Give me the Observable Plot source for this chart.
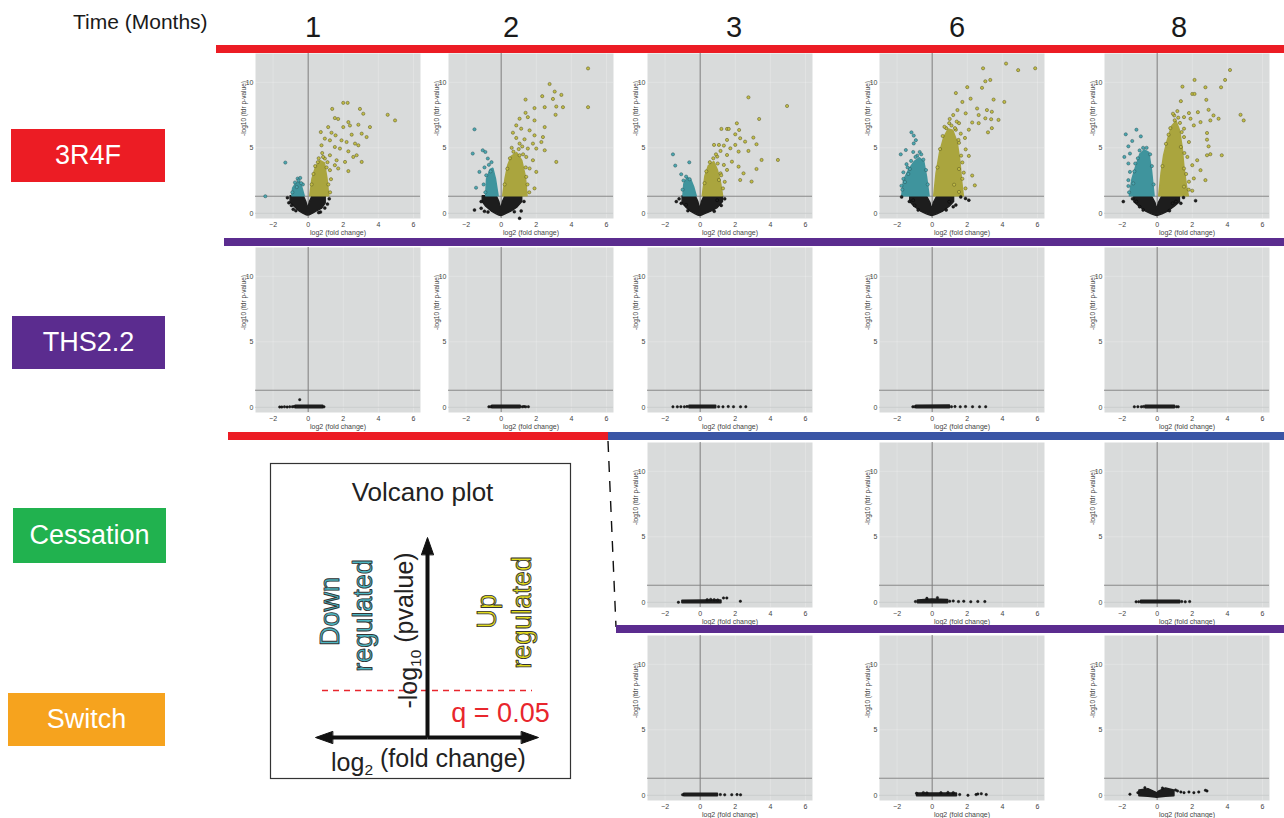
<!DOCTYPE html>
<html><head><meta charset="utf-8">
<script src="https://cdn.jsdelivr.net/npm/d3@7"></script>
<script src="https://cdn.jsdelivr.net/npm/@observablehq/plot@0.6"></script>
<style>
body{margin:0;background:#fff;font-family:"Liberation Sans",Arial,Helvetica,sans-serif;}
#fig{position:relative;width:1284px;height:818px;overflow:hidden;background:#fff;}
.lbl{position:absolute;color:#fff;font-size:27px;display:flex;align-items:center;justify-content:center;}
.hdr{position:absolute;color:#1a1a1a;transform:translate(-50%,-50%);white-space:nowrap;}
.bar{position:absolute;z-index:5;}
</style></head>
<body><div id="fig"></div>
<script>
// ---------------- data ----------------
const months = [1, 2, 3, 6, 8];
const groups = ["3R4F", "THS2.2", "Cessation", "Switch"];
const groupColors = ["#ec1c24", "#5b2c8f", "#21b24f", "#f6a31e"];
const blueColor = "#3a55a5";
const xTicks = [-2, 0, 2, 4, 6];
const yTicks = [0, 5, 10];
const qThreshold = 1.3;

// 3R4F, month 1  (cores: [x, y1, y2]; points: [x, y])
const p11Black = [[-1.0,0.8,1.3],[-0.85,0.6,1.3],[-0.5,0.15,1.3],[-0.25,-0.05,1.3],[-0.1,-0.15,0.85],[0,-0.18,0.35],[0.1,-0.15,0.85],[0.25,-0.05,1.3],[0.5,0.15,1.3],[0.8,0.35,1.3],[1.0,0.75,1.3]];
const p11Teal = [[-0.9,1.3,1.3],[-0.85,1.3,1.9],[-0.7,1.3,2.2],[-0.5,1.3,2.4],[-0.35,1.3,2.0],[-0.2,1.3,1.3]];
const p11Yellow = [[0.12,1.3,1.3],[0.25,1.3,2.6],[0.45,1.3,3.5],[0.7,1.3,4.0],[0.95,1.3,3.8],[1.1,1.3,2.6],[1.2,1.3,1.3]];
const p11Up = [[2.0,8.43],[2.25,8.43],[1.37,7.97],[2.95,7.97],[4.53,7.52],[4.95,7.09],[3.14,7.6],[1.52,7.27],[1.71,7.2],[2.29,6.96],[2.38,6.7],[2.86,6.76],[3.52,6.58],[2.0,6.58],[1.14,6.58],[0.72,6.2],[1.33,6.15],[1.56,5.95],[2.48,6.0],[3.05,6.08],[3.33,5.82],[0.95,5.7],[1.24,5.57],[1.9,5.57],[2.19,5.44],[2.67,5.32],[2.86,5.19],[0.76,5.19],[1.52,5.06],[1.81,4.94],[2.29,4.73],[2.76,4.43],[2.57,4.3],[1.24,4.43],[0.95,4.18],[1.62,4.05],[2.1,3.92],[3.05,3.92],[1.71,3.42],[2.29,3.22],[1.52,3.67],[1.24,3.29],[0.3,3.0],[0.55,3.9],[0.6,4.2],[0.85,4.3],[1.05,3.5],[1.15,2.2],[1.25,1.6],[1.3,2.6],[0.4,3.6],[0.2,2.2],[1.1,3.9],[0.8,4.6]];
const p11Down = [[-1.3,3.87],[-2.44,1.3],[-0.6,2.65],[-0.45,2.7],[-0.75,2.35],[-0.9,1.6],[-0.55,2.5],[-0.3,2.2],[-0.65,2.0],[-0.4,2.3]];
const p11NS = [[-1.18,1.19],[-1.1,0.8],[-0.95,0.6],[1.1,0.7],[1.2,1.1],[0.95,0.4],[-0.85,0.3],[0.7,0.1],[-0.7,0.2],[0.6,0.05]];

// 3R4F, month 2
const p12Black = [[-1.05,0.85,1.3],[-0.85,0.5,1.3],[-0.5,0.1,1.3],[-0.25,-0.08,1.3],[-0.1,-0.18,0.85],[0,-0.22,0.3],[0.1,-0.18,0.85],[0.25,-0.08,1.3],[0.55,0.1,1.3],[0.9,0.4,1.3],[1.2,0.85,1.3]];
const p12Teal = [[-0.85,1.3,1.3],[-0.8,1.3,2.6],[-0.6,1.3,3.3],[-0.45,1.3,3.4],[-0.3,1.3,2.6],[-0.15,1.3,1.3]];
const p12Yellow = [[0.12,1.3,1.3],[0.25,1.3,2.6],[0.4,1.3,3.6],[0.6,1.3,4.3],[0.9,1.3,4.6],[1.2,1.3,4.0],[1.4,1.3,2.8],[1.5,1.3,1.3]];
const p12Up = [[4.95,11.06],[4.95,8.1],[2.76,9.87],[3.05,9.29],[3.43,9.04],[2.95,8.73],[2.34,8.94],[1.39,8.68],[2.48,8.1],[3.14,8.15],[3.52,8.1],[3.1,7.52],[1.9,8.03],[1.39,7.67],[1.52,7.34],[1.05,7.22],[1.9,7.09],[0.86,6.71],[2.48,6.58],[1.14,6.46],[1.62,6.33],[0.67,6.15],[1.9,5.95],[2.38,5.82],[0.86,5.75],[1.33,5.65],[1.05,5.32],[1.81,5.32],[2.29,5.44],[1.52,4.94],[2.0,4.94],[2.48,4.81],[3.14,3.92],[1.43,4.3],[1.81,4.05],[1.05,4.43],[1.62,3.42],[2.0,3.16],[1.43,2.78],[1.9,1.9],[0.35,3.4],[0.5,4.2],[0.7,4.7],[1.0,4.9],[1.25,4.5],[1.4,3.5],[1.5,2.2],[1.6,1.6],[0.2,2.2],[0.6,5.0],[1.2,5.1]];
const p12Down = [[-1.52,6.41],[-1.62,4.56],[-1.05,4.81],[-0.9,4.68],[-0.76,4.18],[-1.24,3.16],[-1.43,1.95],[-0.95,3.5],[-0.7,3.7],[-0.55,3.9],[-0.85,2.9],[-1.0,2.2],[-0.9,1.6],[-0.6,3.2]];
const p12NS = [[-1.52,0.25],[-1.14,0.38],[-1.14,0.89],[1.05,-0.38],[1.14,0.18],[1.3,0.9],[-0.95,0.15],[-0.75,0.1],[0.75,0.12]];

// 3R4F, month 3
const p13Black = [[-1.0,0.75,1.3],[-0.8,0.45,1.3],[-0.5,0.1,1.3],[-0.25,-0.08,1.3],[-0.1,-0.18,0.85],[0,-0.22,0.3],[0.1,-0.18,0.85],[0.25,-0.08,1.3],[0.6,0.1,1.3],[1.0,0.4,1.3],[1.3,0.85,1.3]];
const p13Teal = [[-0.95,1.3,1.3],[-0.9,1.3,2.2],[-0.7,1.3,2.7],[-0.5,1.3,2.5],[-0.35,1.3,2.0],[-0.2,1.3,1.3]];
const p13Yellow = [[0.15,1.3,1.3],[0.3,1.3,2.8],[0.5,1.3,3.6],[0.8,1.3,3.9],[1.0,1.3,3.3],[1.2,1.3,2.2],[1.3,1.3,1.3]];
const p13Up = [[2.75,8.85],[4.95,8.19],[3.36,7.2],[2.09,6.87],[1.21,6.44],[1.53,6.44],[1.63,6.44],[2.22,6.36],[2.0,6.03],[3.03,5.78],[2.28,5.73],[1.53,5.6],[2.56,5.47],[1.07,5.22],[1.35,5.17],[2.0,5.22],[3.21,5.27],[0.79,5.22],[1.72,4.96],[1.16,4.76],[2.19,4.71],[2.75,4.76],[1.53,4.45],[0.97,4.33],[3.5,4.07],[4.43,4.07],[1.81,3.94],[1.35,3.69],[2.19,3.56],[3.21,3.38],[1.53,3.31],[2.47,3.05],[1.16,3.05],[2.28,2.54],[2.93,2.42],[1.07,2.54],[0.35,3.2],[0.55,3.9],[0.75,4.2],[1.0,3.8],[1.2,2.9],[1.3,1.9],[0.25,2.3],[0.9,4.5],[1.4,2.4]];
const p13Down = [[-1.55,4.5],[-0.62,3.89],[-1.42,3.64],[-1.08,2.98],[-0.8,2.8],[-0.95,2.5],[-1.0,1.8],[-0.6,2.6]];
const p13NS = [[-1.36,0.89],[-1.08,0.76],[-0.8,0.64],[0.97,1.0],[1.2,0.6],[1.4,1.1],[-1.2,1.1],[-0.7,0.2],[0.8,0.15]];

// 3R4F, month 6
const p14Black = [[-1.25,0.85,1.3],[-1.0,0.5,1.3],[-0.6,0.1,1.3],[-0.3,-0.08,1.3],[-0.1,-0.18,0.8],[0,-0.22,0.25],[0.1,-0.18,0.8],[0.3,-0.08,1.3],[0.6,0.1,1.3],[1.0,0.5,1.3],[1.25,0.85,1.3]];
const p14Teal = [[-1.7,1.3,1.3],[-1.6,1.3,2.5],[-1.3,1.3,3.3],[-1.0,1.3,3.9],[-0.7,1.3,4.2],[-0.45,1.3,3.9],[-0.3,1.3,2.8],[-0.15,1.3,1.3]];
const p14Yellow = [[0.12,1.3,1.3],[0.25,1.3,3.0],[0.45,1.3,4.6],[0.7,1.3,5.8],[0.95,1.3,6.4],[1.2,1.3,6.3],[1.45,1.3,5.4],[1.6,1.3,4.0],[1.7,1.3,2.5],[1.8,1.3,1.3]];
const p14Up = [[2.9,11.07],[4.21,11.43],[4.9,10.93],[5.87,11.07],[3.03,10.08],[3.31,10.18],[2.84,9.58],[2.0,9.63],[1.35,9.18],[2.19,8.75],[3.5,8.68],[1.72,8.5],[4.11,8.5],[2.56,8.0],[3.12,7.88],[1.44,7.88],[1.91,7.63],[3.4,7.75],[2.65,7.5],[3.03,7.25],[3.78,7.13],[3.36,7.18],[2.28,6.93],[2.65,6.88],[1.53,6.88],[0.97,6.88],[3.4,6.5],[3.18,6.18],[2.09,6.38],[1.35,6.38],[1.63,6.08],[1.87,5.75],[1.53,5.38],[1.91,4.88],[2.09,4.38],[1.72,3.88],[1.53,3.38],[2.28,2.88],[2.43,2.13],[1.53,1.63],[1.25,2.18],[1.72,2.63],[0.6,5.9],[0.8,6.5],[1.1,6.7],[1.3,6.5],[1.5,5.6],[1.65,4.4],[1.8,3.1],[1.9,1.9],[0.3,3.5],[0.45,4.9],[1.0,7.2],[1.2,7.5],[0.7,6.6],[1.4,7.0]];
const p14Down = [[-1.18,6.18],[-1.05,5.93],[-0.93,5.58],[-1.05,5.33],[-1.79,4.5],[-1.5,4.83],[-1.08,4.68],[-0.71,4.68],[-0.62,4.5],[-1.64,2.63],[-1.55,2.38],[-1.36,3.0],[-1.64,3.13],[-1.27,3.38],[-1.46,3.75],[-1.7,1.8],[-1.75,2.1],[-0.85,4.4],[-0.5,4.1],[-0.35,3.3],[-0.25,2.2],[-1.2,4.0],[-1.4,3.5],[-0.95,4.3]];
const p14NS = [[-1.74,1.25],[-1.08,1.0],[1.35,0.63],[1.63,1.25],[1.9,1.13],[2.09,1.0],[0.97,0.88],[-1.3,0.9],[1.2,0.5],[-1.0,0.6],[-0.8,0.25],[0.8,0.25]];

// 3R4F, month 8
const p15Black = [[-1.3,0.85,1.3],[-1.0,0.5,1.3],[-0.6,0.1,1.3],[-0.3,-0.08,1.3],[-0.1,-0.18,0.8],[0,-0.22,0.25],[0.1,-0.18,0.8],[0.3,-0.08,1.3],[0.6,0.1,1.3],[1.0,0.5,1.3],[1.3,0.85,1.3]];
const p15Teal = [[-1.55,1.3,1.3],[-1.4,1.3,2.6],[-1.2,1.3,3.5],[-0.95,1.3,4.5],[-0.7,1.3,4.8],[-0.45,1.3,4.6],[-0.3,1.3,3.3],[-0.15,1.3,1.3]];
const p15Yellow = [[0.12,1.3,1.3],[0.25,1.3,3.0],[0.4,1.3,4.4],[0.6,1.3,5.5],[0.85,1.3,6.6],[1.1,1.3,7.0],[1.3,1.3,6.3],[1.45,1.3,5.0],[1.55,1.3,3.5],[1.7,1.3,2.0],[1.8,1.3,1.3]];
const p15Up = [[4.15,10.94],[3.87,10.18],[3.64,9.62],[2.75,9.62],[2.13,10.18],[1.44,9.67],[2.0,9.11],[2.13,9.11],[2.8,8.66],[1.35,8.56],[4.75,7.52],[4.93,7.09],[2.93,7.9],[3.21,7.47],[3.5,7.22],[3.03,7.09],[2.32,7.72],[1.81,7.65],[0.97,7.47],[1.53,7.34],[1.9,7.22],[2.47,6.96],[2.09,6.71],[1.53,6.46],[2.84,6.13],[2.84,5.62],[2.93,5.11],[2.84,4.43],[3.68,4.43],[3.03,4.51],[1.53,5.82],[1.81,5.44],[1.35,5.06],[1.72,4.3],[2.28,4.05],[2.0,3.67],[1.53,3.42],[2.47,3.29],[2.75,2.53],[2.09,2.66],[1.81,2.41],[2.0,1.72],[1.53,2.03],[0.5,5.3],[0.75,6.5],[1.0,7.1],[1.2,7.3],[1.4,6.2],[1.55,4.6],[1.65,3.0],[1.8,1.8],[0.3,3.6],[0.9,7.6],[1.15,7.8],[0.65,6.0],[1.3,6.9]];
const p15Down = [[-1.18,6.38],[-1.79,6.03],[-0.93,5.87],[-1.42,5.52],[-1.64,5.11],[-1.87,4.3],[-1.55,4.56],[-1.64,3.8],[-1.55,3.16],[-1.64,2.53],[-1.64,2.08],[-1.36,2.28],[-1.1,4.2],[-0.8,5.0],[-0.6,5.0],[-0.4,4.5],[-1.3,3.2],[-1.0,4.8],[-0.3,3.6],[-0.2,2.2],[-1.6,1.6],[-1.25,3.8]];
const p15NS = [[-1.93,0.89],[-1.18,0.89],[-0.8,0.25],[0.88,0.76],[1.07,0.89],[1.35,0.76],[2.19,0.96],[-1.4,1.1],[1.5,1.2],[-1.0,0.5],[0.7,0.2]];

// THS2.2, months 1..8
const p21Core = [[-0.7,-0.06,0.1],[0.85,-0.06,0.1]];
const p21NS = [[-1.62,0.02],[-1.5,0.02],[-1.35,0.03],[-1.2,0.02],[-1.05,0.03],[-0.9,0.04],[-0.8,0.05],[-0.48,0.58],[0.9,0.03]];
const p22Core = [[-0.5,-0.06,0.1],[1.1,-0.06,0.1]];
const p22NS = [[-0.7,0.03],[-0.6,0.04],[1.2,0.03],[1.3,0.05],[1.4,0.03],[1.55,0.04]];
const p23Core = [[-0.6,-0.06,0.1],[0.9,-0.06,0.1]];
const p23NS = [[-1.55,0.03],[-1.3,0.03],[-1.1,0.04],[-0.9,0.03],[-0.75,0.05],[1.05,0.04],[1.3,0.03],[1.6,0.05],[1.9,0.04],[2.3,0.03],[2.6,0.04]];
const p24Core = [[-0.9,-0.06,0.1],[1.0,-0.06,0.12]];
const p24NS = [[-1.1,0.03],[-1.0,0.04],[1.1,0.04],[1.3,0.05],[1.6,0.03],[1.9,0.05],[2.3,0.04],[2.7,0.03],[3.05,0.04]];
const p25Core = [[-0.65,-0.06,0.1],[1.0,-0.06,0.1]];
const p25NS = [[-1.3,0.03],[-1.1,0.04],[-0.9,0.03],[-0.78,0.05],[1.1,0.04],[1.2,0.03]];

// Cessation, months 3, 6, 8
const p33Core = [[-1.0,-0.06,0.1],[0.3,-0.06,0.12],[1.2,-0.06,0.12]];
const p33NS = [[-1.24,0.0],[1.33,0.33],[1.52,0.33],[2.29,0.08],[0.4,0.2],[0.6,0.22],[0.8,0.2],[1.0,0.18]];
const p34Core = [[-0.8,-0.06,0.12],[0,-0.06,0.2],[0.9,-0.06,0.15]];
const p34NS = [[-0.95,0.05],[1.0,0.08],[1.2,0.1],[1.5,0.05],[1.8,0.08],[2.2,0.04],[2.6,0.06],[3.0,0.05],[-0.3,0.3],[0.3,0.35]];
const p35Core = [[-0.9,-0.06,0.1],[1.3,-0.06,0.1]];
const p35NS = [[-1.2,0.03],[-1.05,0.04],[1.4,0.05],[1.6,0.03],[1.85,0.05]];

// Switch, months 3, 6, 8
const p43Core = [[-0.9,-0.06,0.1],[1.0,-0.06,0.1]];
const p43NS = [[-1.0,0.04],[1.15,0.05],[1.4,0.03],[1.8,0.04],[2.1,0.05],[2.3,0.03]];
const p44Core = [[-0.85,-0.06,0.12],[1.4,-0.06,0.12]];
const p44NS = [[-0.89,0.15],[-0.5,0.2],[-0.3,0.18],[0.5,0.2],[0.9,0.22],[1.2,0.2],[1.57,0.05],[2.04,0.0],[2.5,0.05],[2.8,0.12],[3.08,0.05],[2.6,0.1]];
const p45Core = [[-1.0,-0.06,0.35],[-0.5,-0.1,0.45],[-0.1,-0.15,0.2],[0,-0.18,0.1],[0.1,-0.15,0.25],[0.5,-0.1,0.5],[0.97,-0.06,0.35]];
const p45NS = [[-1.55,0.08],[1.16,0.33],[1.35,0.25],[1.53,0.2],[1.81,0.25],[2.09,0.2],[2.37,0.25],[2.75,0.38],[2.84,0.33],[-0.7,0.58],[0.3,0.55],[-1.1,0.2],[1.05,0.4]];

// schematic legend (schematic units)
const legendShafts = [[0,0,-0.97,0],[0,0,0.96,0],[0,0,0,1.85]];
const legendHeads = [[-1.12,0,-90],[1.11,0,90],[0,2.0,0]];
const legendQ = 0.47;

// ---------------- layout ----------------
const fig = document.getElementById("fig");
const colLeft = [255, 448, 647, 879, 1104];
const rowTop = [53, 247, 442, 635];
const headerX = [313, 511, 734, 957, 1179];
const PW = 165, PH = 165, ML = 26, MR = 1, MT = 1, MB = 26;

const panels = [
  {r:0,c:0,black:p11Black,teal:p11Teal,yellow:p11Yellow,ns:p11NS,down:p11Down,up:p11Up},
  {r:0,c:1,black:p12Black,teal:p12Teal,yellow:p12Yellow,ns:p12NS,down:p12Down,up:p12Up},
  {r:0,c:2,black:p13Black,teal:p13Teal,yellow:p13Yellow,ns:p13NS,down:p13Down,up:p13Up},
  {r:0,c:3,black:p14Black,teal:p14Teal,yellow:p14Yellow,ns:p14NS,down:p14Down,up:p14Up},
  {r:0,c:4,black:p15Black,teal:p15Teal,yellow:p15Yellow,ns:p15NS,down:p15Down,up:p15Up},
  {r:1,c:0,black:p21Core,ns:p21NS},{r:1,c:1,black:p22Core,ns:p22NS},{r:1,c:2,black:p23Core,ns:p23NS},
  {r:1,c:3,black:p24Core,ns:p24NS},{r:1,c:4,black:p25Core,ns:p25NS},
  {r:2,c:2,black:p33Core,ns:p33NS},{r:2,c:3,black:p34Core,ns:p34NS},{r:2,c:4,black:p35Core,ns:p35NS},
  {r:3,c:2,black:p43Core,ns:p43NS},{r:3,c:3,black:p44Core,ns:p44NS},{r:3,c:4,black:p45Core,ns:p45NS}
];

function put(el, x, y, z) {
  el.style.position = "absolute"; el.style.left = x + "px"; el.style.top = y + "px";
  if (z) el.style.zIndex = z;
  fig.appendChild(el);
}

const X = d => d[0], Y = d => d[1], Y1 = d => d[1], Y2 = d => d[2];
function core(data, color, sw) {
  return Plot.area(data, {x1: X, y1: Y1, y2: Y2, fill: color, stroke: color, strokeWidth: sw, strokeLinejoin: "round", curve: "linear"});
}

for (const p of panels) {
  const big = p.r === 0;
  const marks = [
    Plot.frame({fill: "#d9dbdb", stroke: null}),
    Plot.gridX({ticks: xTicks, stroke: "#ffffff", strokeOpacity: 0.22}),
    Plot.gridY({ticks: yTicks, stroke: "#ffffff", strokeOpacity: 0.22}),
    Plot.ruleY([0], {stroke: "#c3c5c5", strokeWidth: 0.8}),
    Plot.ruleX([0], {stroke: "#6e6e6e", strokeWidth: 0.9}),
    Plot.ruleY([qThreshold], {stroke: "#7f7f7f", strokeWidth: 0.9}),
    core(p.black, "#1d1d1d", big ? 1.4 : 2)
  ];
  if (p.teal) marks.push(core(p.teal, "#3f949d", 1.6));
  if (p.yellow) marks.push(core(p.yellow, "#aaa53e", 1.6));
  marks.push(Plot.dot(p.ns, {x: X, y: Y, r: big ? 1.5 : 1.25, fill: "#1f1f1f", stroke: "#000", strokeWidth: 0.4}));
  if (p.down) marks.push(Plot.dot(p.down, {x: X, y: Y, r: 1.6, fill: "#4aa7b1", stroke: "#2c5458", strokeWidth: 0.5}));
  if (p.up) marks.push(Plot.dot(p.up, {x: X, y: Y, r: 1.6, fill: "#c2bd47", stroke: "#55521f", strokeWidth: 0.5}));
  marks.push(
    Plot.axisX({ticks: xTicks, tickSize: 0, tickPadding: 4, label: null, fontSize: 7, fill: "#444"}),
    Plot.axisY({ticks: yTicks, tickSize: 0, tickPadding: 2, label: null, fontSize: 7, fill: "#444"}),
    Plot.text(["log2 (fold change)"], {frameAnchor: "bottom", dy: 16, fontSize: 7, fill: "#444"}),
    Plot.text(["-log10 (fdr p-value)"], {frameAnchor: "left", rotate: -90, dx: -12, fontSize: 6.5, fill: "#444"})
  );
  const svg = Plot.plot({
    width: PW + ML + MR, height: PH + MT + MB,
    marginLeft: ML, marginRight: MR, marginTop: MT, marginBottom: MB,
    x: {domain: [-3.0, 6.4]}, y: {domain: [-0.4, 12.2]},
    style: {fontFamily: "Liberation Sans, Arial, sans-serif", fontSize: "7px", background: "transparent", overflow: "visible"},
    marks
  });
  put(svg, colLeft[p.c] - ML, rowTop[p.r] - MT, 2);
}

// ---------------- headers, labels, bars ----------------
const tm = document.createElement("div");
tm.className = "hdr"; tm.textContent = "Time (Months)";
tm.style.fontSize = "21px"; tm.style.transform = "translate(0,-50%)";
put(tm, 73, 22, 3);
months.forEach((m, i) => {
  const d = document.createElement("div");
  d.className = "hdr"; d.textContent = String(m); d.style.fontSize = "29px";
  put(d, headerX[i], 27, 3);
});

const labelBoxes = [[11,129,154,53],[12,316,153,53],[13,508,153,55],[8,693,157,53]];
groups.forEach((g, i) => {
  const [x, y, w, h] = labelBoxes[i];
  const d = document.createElement("div");
  d.className = "lbl"; d.textContent = g;
  d.style.width = w + "px"; d.style.height = h + "px"; d.style.background = groupColors[i];
  put(d, x, y, 3);
});

const bars = [
  [216, 45, 1068, 8, groupColors[0]],
  [224, 238, 1060, 8, groupColors[1]],
  [228, 432, 380, 8, groupColors[0]],
  [608, 432, 676, 8, blueColor],
  [616, 625, 668, 8, groupColors[1]]
];
for (const [x, y, w, h, c] of bars) {
  const d = document.createElement("div");
  d.className = "bar"; d.style.width = w + "px"; d.style.height = h + "px"; d.style.background = c;
  put(d, x, y, 5);
}

// dashed connector
const dash = d3.create("svg").attr("width", 20).attr("height", 200);
dash.append("line").attr("x1", 2).attr("y1", 0).attr("x2", 10).attr("y2", 186)
  .attr("stroke", "#111").attr("stroke-width", 1.4).attr("stroke-dasharray", "11 9");
put(dash.node(), 606, 441, 4);

// ---------------- schematic legend ----------------
const legendText = [
  {x: -0.05, y: 2.45, t: "Volcano plot", c: "#222", s: 26, r: 0},
  {x: -0.19, y: 1.07, t: "-log10 (pvalue)", c: "#222", s: 25, r: -90},
  {x: 0.73, y: 0.24, t: "q = 0.05", c: "#e8262d", s: 27, r: 0},
  {x: 0.01, y: -0.25, t: "log2 (fold change)", c: "#222", s: 25, r: 0}
];
const legendRegulated = [
  {x: -0.97, y: 1.26, t: "Down", c: "#4cb6c2"},
  {x: -0.64, y: 1.22, t: "regulated", c: "#4cb6c2"},
  {x: 0.60, y: 1.26, t: "Up", c: "#e3dc1c"},
  {x: 0.95, y: 1.25, t: "regulated", c: "#e3dc1c"}
];
const headShape = {draw(context, l, r) { context.moveTo(-r, 0); context.lineTo(0, -l); context.lineTo(r, 0); context.closePath(); }};
function legendPlot(useVector) {
  const heads = useVector
    ? Plot.vector(legendHeads, {x: d => d[0], y: d => d[1], rotate: d => d[2], length: 17, r: 6, anchor: "end", shape: headShape, fill: "#111", stroke: "#111", strokeWidth: 1})
    : Plot.dot(legendHeads, {x: d => d[0], y: d => d[1], rotate: d => d[2], symbol: "triangle", r: 6, fill: "#111"});
  return Plot.plot({
    width: 302, height: 317, margin: 1,
    x: {domain: [-1.57, 1.43], axis: null}, y: {domain: [-0.41, 2.74], axis: null},
    style: {fontFamily: "Liberation Sans, Arial, sans-serif", background: "#fff", overflow: "visible"},
    marks: [
      Plot.frame({stroke: "#333", strokeWidth: 1.2}),
      Plot.ruleY([legendQ], {x1: -1.05, x2: 1.05, stroke: "#e8262d", strokeWidth: 1.5, strokeDasharray: "6,5"}),
      Plot.link(legendShafts, {x1: d => d[0], y1: d => d[1], x2: d => d[2], y2: d => d[3], stroke: "#111", strokeWidth: 4}),
      heads,
      Plot.text(legendText, {x: "x", y: "y", text: "t", fill: "c", fontSize: d => d.s, rotate: "r"}),
      Plot.text(legendRegulated, {x: "x", y: "y", text: "t", fill: "c", fontSize: 27, rotate: -90, stroke: "#333", strokeWidth: 0.9, paintOrder: "normal"})
    ]
  });
}
let legend;
try { legend = legendPlot(true); } catch (e) { legend = legendPlot(false); }
d3.select(legend).selectAll("text").each(function() {
  const t = this.textContent;
  const sel = d3.select(this);
  if (t === "-log10 (pvalue)") {
    sel.text(null);
    sel.append("tspan").text("-log");
    sel.append("tspan").attr("dy", "0.32em").attr("font-size", "0.62em").text("10");
    sel.append("tspan").attr("dy", "-0.32em").text(" (pvalue)");
  } else if (t === "log2 (fold change)") {
    sel.text(null);
    sel.append("tspan").text("log");
    sel.append("tspan").attr("dy", "0.32em").attr("font-size", "0.62em").text("2");
    sel.append("tspan").attr("dy", "-0.32em").text(" (fold change)");
  }
});
put(legend, 269, 462, 3);
</script>
</body></html>
